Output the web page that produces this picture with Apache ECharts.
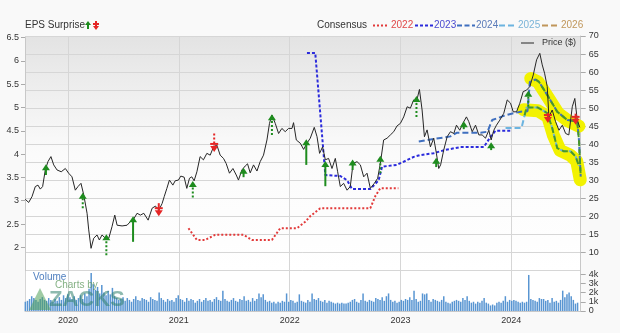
<!DOCTYPE html>
<html><head><meta charset="utf-8">
<script src="https://cdn.jsdelivr.net/npm/echarts@6/dist/echarts.min.js"></script>
<style>html,body{margin:0;padding:0;background:#f9f9f9}#c{width:620px;height:333px}</style>
</head><body><div id="c"></div>
<script>
// ---------- DATA (x = decimal year) ----------
const yearTicks = [2020, 2021, 2022, 2023, 2024];

const priceData = [
[2019.614,24.8],[2019.645,23.9],[2019.675,25.5],[2019.705,28.3],[2019.729,28.7],[2019.750,27.6],[2019.771,28.3],
[2019.795,32.9],[2019.819,35.2],[2019.846,36.6],[2019.871,34.3],[2019.901,32.9],[2019.939,32.4],[2019.976,33.3],
[2020.006,32.0],[2020.036,31.0],[2020.066,27.3],[2020.090,28.3],[2020.117,29.2],[2020.142,26.0],[2020.172,20.9],
[2020.187,16.3],[2020.208,11.2],[2020.232,14.0],[2020.262,14.9],[2020.283,13.5],[2020.307,14.9],[2020.337,14.0],
[2020.368,14.0],[2020.397,17.2],[2020.422,20.4],[2020.443,17.6],[2020.488,17.4],[2020.533,17.6],[2020.563,18.6],
[2020.587,19.0],[2020.623,20.9],[2020.653,20.4],[2020.684,20.9],[2020.723,19.0],[2020.759,22.3],[2020.789,22.9],
[2020.820,21.8],[2020.849,23.6],[2020.868,25.5],[2020.892,27.8],[2020.915,30.1],[2020.946,28.7],[2020.967,29.9],
[2020.996,30.1],[2021.018,31.2],[2021.048,30.9],[2021.072,27.8],[2021.096,30.6],[2021.117,31.0],[2021.138,29.9],
[2021.163,32.4],[2021.192,36.6],[2021.222,35.7],[2021.253,37.5],[2021.283,37.0],[2021.313,39.3],[2021.343,39.8],
[2021.373,37.0],[2021.403,36.1],[2021.427,34.7],[2021.457,32.0],[2021.488,33.3],[2021.518,31.5],[2021.538,30.1],
[2021.569,32.9],[2021.599,34.0],[2021.620,34.6],[2021.644,32.1],[2021.674,34.3],[2021.705,32.6],[2021.734,35.2],
[2021.764,37.0],[2021.795,41.2],[2021.818,45.8],[2021.840,48.1],[2021.870,45.8],[2021.900,43.0],[2021.930,44.4],
[2021.960,43.5],[2021.990,44.4],[2022.021,44.4],[2022.035,46.0],[2022.060,41.2],[2022.096,40.3],[2022.126,38.6],
[2022.156,40.3],[2022.186,41.7],[2022.222,44.7],[2022.247,42.1],[2022.270,37.5],[2022.297,39.3],[2022.322,35.7],
[2022.351,36.1],[2022.382,33.3],[2022.412,36.1],[2022.433,32.4],[2022.457,28.3],[2022.487,29.2],[2022.518,27.3],
[2022.547,28.3],[2022.572,34.7],[2022.608,35.2],[2022.638,34.3],[2022.668,31.0],[2022.698,32.0],[2022.728,27.8],
[2022.764,29.2],[2022.794,30.6],[2022.818,34.7],[2022.848,41.2],[2022.879,41.7],[2022.909,42.6],[2022.939,43.5],
[2022.969,45.1],[2022.999,45.8],[2023.029,47.6],[2023.060,50.4],[2023.089,50.0],[2023.119,52.3],[2023.144,51.8],
[2023.171,55.2],[2023.195,49.5],[2023.216,42.1],[2023.240,44.0],[2023.270,39.3],[2023.300,41.7],[2023.324,37.5],
[2023.345,33.3],[2023.362,34.3],[2023.390,38.4],[2023.421,42.1],[2023.451,43.5],[2023.481,43.0],[2023.505,45.3],
[2023.535,43.9],[2023.566,46.0],[2023.595,47.6],[2023.616,46.3],[2023.647,43.5],[2023.677,45.3],[2023.707,42.6],
[2023.737,42.6],[2023.767,41.7],[2023.797,43.9],[2023.818,41.2],[2023.842,43.9],[2023.866,45.3],[2023.896,46.7],
[2023.932,48.6],[2023.963,52.3],[2023.993,51.4],[2024.017,49.0],[2024.047,49.0],[2024.077,51.4],[2024.107,54.6],
[2024.137,55.0],[2024.167,56.0],[2024.198,59.2],[2024.228,63.4],[2024.257,65.2],[2024.279,62.0],[2024.300,59.7],
[2024.324,56.0],[2024.339,47.6],[2024.369,49.5],[2024.399,46.3],[2024.430,43.9],[2024.460,45.3],[2024.490,43.0],
[2024.519,42.6],[2024.550,50.4],[2024.573,52.7],[2024.595,46.7],[2024.618,44.7]
];

// consensus EPS lines [year, eps]
const cons2022 = [[2021.087,2.41],[2021.163,2.16],[2021.238,2.16],[2021.328,2.27],[2021.584,2.27],[2021.659,2.16],
[2021.840,2.16],[2021.915,2.41],[2022.066,2.41],[2022.141,2.55],[2022.186,2.67],[2022.276,2.84],[2022.728,2.84],
[2022.773,3.10],[2022.818,3.27],[2022.981,3.27]];
const cons2023 = [[2022.156,6.17],[2022.231,6.17],[2022.322,3.55],[2022.457,3.53],[2022.518,3.44],[2022.563,3.25],
[2022.728,3.25],[2022.803,3.44],[2022.834,3.73],[2022.969,3.77],[2023.119,3.94],[2023.180,3.98],[2023.300,4.02],
[2023.406,4.09],[2023.541,4.15],[2023.752,4.15],[2023.812,4.37],[2023.857,4.50],[2023.993,4.50]];
const cons2024 = [[2023.165,4.27],[2023.285,4.32],[2023.406,4.36],[2023.451,4.38],[2023.511,4.46],[2023.722,4.46],
[2023.785,4.48],[2023.827,4.73],[2023.932,4.82],[2023.993,4.86],[2024.083,4.91],[2024.146,4.92],[2024.167,5.55],
[2024.219,5.60],[2024.249,5.55],[2024.324,5.27],[2024.414,4.91],[2024.505,4.73],[2024.595,4.70],[2024.610,4.31],[2024.626,3.52]];
const cons2025 = [[2023.948,4.56],[2024.092,4.56],[2024.137,5.00],[2024.236,5.00],[2024.324,4.88],[2024.369,4.56],
[2024.414,4.13],[2024.474,4.06],[2024.535,4.06],[2024.580,3.95],[2024.610,3.75]];
const cons2026 = [];

// hand-drawn yellow marker paths [year, eps]
const highlightUpper = [[2024.175,5.62],[2024.240,5.55],[2024.330,5.22],[2024.420,4.88],[2024.520,4.70],[2024.610,4.60]];
const highlightLower = [[2024.110,4.95],[2024.240,4.93],[2024.330,4.80],[2024.380,4.40],[2024.440,4.08],[2024.530,3.98],[2024.590,3.85],[2024.622,3.45]];
const highlightFrom2024 = 2024.22, highlightFrom2025 = 2024.12;

// EPS surprises: [year, arrow head price, stem end price, 1=beat/-1=miss, dashed stem 1/0]
const surprises = [
[2019.801,33.4,31.5,1,0],[2020.133,25.5,22.3,1,1],[2020.346,14.0,9.3,1,1],[2020.587,19.0,13.0,1,0],
[2020.819,21.2,23.7,-1,0],[2021.126,28.7,25.3,1,1],[2021.319,39.0,43.0,-1,1],[2021.584,32.4,30.9,1,0],
[2021.840,47.2,42.6,1,1],[2022.150,40.3,34.3,1,0],[2022.322,34.3,28.4,1,0],[2022.568,34.7,32.9,1,0],
[2022.818,35.7,32.0,1,1],[2023.144,52.3,47.6,1,1],[2023.322,35.2,33.7,1,0],[2023.571,45.3,44.2,1,0],
[2023.818,39.5,38.4,1,0],[2024.153,53.7,50.4,1,1],[2024.330,47.0,48.7,-1,0],[2024.580,46.5,48.5,-1,0]
];

// weekly volume (thousands), first week starting at volumeStart
const volumeStart = 2019.615;
const volume = [
1.0,1.1,1.3,1.6,1.4,1.2,1.0,1.3,1.5,1.2,1.1,1.4,1.2,1.0,1.3,1.1,1.5,1.2,1.7,1.4,
1.8,1.5,1.3,1.6,1.2,1.4,1.7,1.3,1.9,1.6,2.4,4.1,
2.9,2.3,2.6,1.9,2.8,2.0,1.7,2.2,1.8,2.5,1.6,1.4,1.2,
1.3,1.5,1.1,1.4,1.2,1.0,1.3,1.6,1.2,1.1,1.4,1.3,1.2,1.0,1.5,1.3,1.2,1.1,2.0,1.4,1.2,1.0,1.3,1.1,1.2,1.0,1.4,
1.7,1.3,1.2,1.0,1.4,1.1,1.3,1.2,0.9,1.1,1.3,1.0,1.2,1.4,1.1,1.2,1.0,1.3,1.5,1.2,1.1,2.2,1.3,1.1,1.0,1.2,
1.4,1.1,1.0,1.3,1.2,1.6,1.1,1.2,1.0,1.4,1.1,1.3,1.9,1.5,1.8,1.2,1.0,1.1,0.9,1.0,0.8,1.0,0.9,1.1,1.0,1.9,
1.0,1.2,1.1,0.9,1.0,1.8,1.1,1.0,0.9,1.2,1.0,1.9,1.3,1.2,1.4,1.1,1.0,1.2,0.9,1.1,1.0,0.9,0.8,0.9,0.8,0.9,
0.8,0.8,0.9,1.0,1.2,1.3,1.0,0.9,1.2,1.9,1.1,1.0,1.2,1.1,1.0,1.4,1.3,1.2,1.5,1.1,1.6,1.9,1.2,1.0,1.1,0.9,
1.0,1.2,1.1,1.3,1.2,1.5,1.2,2.2,1.3,1.0,1.1,1.9,1.8,1.9,1.2,1.0,1.3,1.2,1.1,1.0,1.2,1.6,1.0,0.9,0.8,1.0,
1.1,1.2,1.1,1.0,1.4,1.2,1.6,1.1,0.9,1.0,0.8,1.0,0.9,1.1,1.4,0.9,0.8,0.6,0.7,0.6,0.9,1.0,0.9,1.1,1.6,1.0,
1.2,1.1,1.2,1.1,1.0,0.9,1.0,0.9,1.0,3.9,1.3,1.2,1.1,1.0,1.4,1.3,1.3,1.1,1.2,0.9,1.4,1.0,1.1,0.9,1.2,2.2,
1.5,1.8,2.0,1.6,1.2,0.8,0.9
];

// ---------- CHART ----------
const X_MIN = 2019.612, X_MAX = 2024.626;
const volData = volume.map((v, i) => [volumeStart + i * 7 / 365.25, v * 1000]);
const FONT = 'Liberation Sans, Arial, sans-serif';
const HL_GREEN = '#4a9828';
const chart = echarts.init(document.getElementById('c'), null, {renderer: 'canvas'});

function xAxisBase(gridIndex, showLabels) {
  return {
    type: 'value', gridIndex, min: X_MIN, max: X_MAX,
    axisLine: {show: gridIndex === 1, lineStyle: {color: '#c8c8c8'}},
    axisTick: {show: false},
    axisLabel: showLabels ? {show: true, customValues: yearTicks, formatter: v => String(v), color: '#333', fontSize: 9, fontFamily: FONT, margin: 5} : {show: false},
    splitLine: gridIndex === 2 ? {show: false} : {show: true, lineStyle: {color: '#d6d6d6', width: 1}},
    axisPointer: {show: false}
  };
}

function arrowRender(params, api) {
  const t = api.value(0), h = api.value(1), tl = api.value(2), dir = api.value(3), dashed = api.value(4) > 0;
  const ph = api.coord([t, h]), pt = api.coord([t, tl]);
  const c = dir > 0 ? '#1e8c1e' : '#e52626';
  const tipY = ph[1] - dir * 4, baseY = ph[1] + dir * 2;
  const children = [
    {type: 'line', shape: {x1: pt[0], y1: pt[1], x2: ph[0], y2: ph[1]}, style: {stroke: c, lineWidth: 2, lineDash: dashed ? [2, 2] : null}},
    {type: 'polygon', shape: {points: [[ph[0], tipY], [ph[0] - 4, baseY], [ph[0] + 4, baseY]]}, style: {fill: c}}
  ];
  if (dir < 0) children.push({type: 'rect', shape: {x: ph[0] - 4, y: ph[1] - 5, width: 8, height: 2}, style: {fill: c}});
  return {type: 'group', children};
}

function highlightRender(path) {
  return function (params, api) {
    if (params.dataIndex !== 0) return null;
    const pts = path.map(p => api.coord(p));
    return {type: 'polyline', shape: {points: pts}, style: {stroke: '#f2f200', lineWidth: 13, lineCap: 'round', lineJoin: 'round', fill: null}};
  };
}

// portion of a consensus line lying under the marker (starts with interpolated boundary point)
function tailFrom(arr, t0) {
  const out = [];
  for (let i = 0; i < arr.length; i++) {
    if (arr[i][0] >= t0) {
      if (!out.length && i > 0) {
        const a = arr[i - 1], b = arr[i], f = (t0 - a[0]) / (b[0] - a[0]);
        out.push([t0, a[1] + f * (b[1] - a[1])]);
      }
      out.push(arr[i]);
    }
  }
  return out;
}

const consStyle = (color, dash, z) => ({type: 'line', xAxisIndex: 2, yAxisIndex: 2, symbol: 'none', silent: true,
  lineStyle: {color, width: 2, type: dash}, z: z || 4});

const option = {
  backgroundColor: '#f9f9f9',
  animation: false,
  textStyle: {fontFamily: FONT},
  grid: [
    {left: 25, right: 39.3, top: 36, bottom: 62.3, show: true, borderWidth: 0,
      backgroundColor: new echarts.graphic.LinearGradient(0, 0, 0, 1, [{offset: 0, color: '#e3e3e3'}, {offset: 0.5, color: '#fbfbfb'}, {offset: 1, color: '#ffffff'}])},
    {left: 25, right: 39.3, top: 269.4, bottom: 22, show: true, borderWidth: 0, backgroundColor: '#ffffff'},
    {left: 25, right: 39.3, top: 37.5, bottom: 62.3, show: false}
  ],
  xAxis: [xAxisBase(0, false), xAxisBase(1, true), xAxisBase(2, false)],
  yAxis: [
    {type: 'value', gridIndex: 0, position: 'right', min: 5, max: 70, interval: 5,
      axisLine: {show: true, lineStyle: {color: '#c8c8c8'}},
      axisTick: {show: true, length: 5, lineStyle: {color: '#aaa'}},
      axisLabel: {showMinLabel: false, color: '#333', fontSize: 9, fontFamily: FONT, margin: 8},
      splitLine: {show: true, lineStyle: {color: '#d6d6d6'}}},
    {type: 'value', gridIndex: 1, position: 'right', min: 0, max: 4500, interval: 1000,
      axisLine: {show: true, lineStyle: {color: '#c8c8c8'}},
      axisTick: {show: true, length: 5, lineStyle: {color: '#aaa'}},
      axisLabel: {showMaxLabel: false, color: '#333', fontSize: 9, fontFamily: FONT, margin: 8, formatter: v => v === 0 ? '0' : (v / 1000) + 'k'},
      splitLine: {show: false}},
    {type: 'value', gridIndex: 2, position: 'left', min: 1.5, max: 6.5, interval: 0.5,
      axisLine: {show: true, lineStyle: {color: '#c8c8c8'}},
      axisTick: {show: true, length: 4, lineStyle: {color: '#aaa'}},
      axisLabel: {showMinLabel: false, color: '#333', fontSize: 9, fontFamily: FONT, margin: 6},
      splitLine: {show: false}}
  ],
  series: [
    {type: 'bar', xAxisIndex: 1, yAxisIndex: 1, data: volData, barWidth: 1.5, itemStyle: {color: '#5895d2'}, silent: true},
    Object.assign(consStyle('#e23a3a', [2, 2]), {data: cons2022}),
    Object.assign(consStyle('#2b2bdc', [3, 2]), {data: cons2023}),
    Object.assign(consStyle('#3f6fbf', [6, 3]), {data: cons2024}),
    Object.assign(consStyle('#6cb4e0', [6, 3]), {data: cons2025}),
    Object.assign(consStyle('#c0965a', [6, 3]), {data: cons2026}),
    Object.assign(consStyle(HL_GREEN, [6, 3], 4.5), {data: tailFrom(cons2024, highlightFrom2024)}),
    Object.assign(consStyle(HL_GREEN, [6, 3], 4.5), {data: tailFrom(cons2025, highlightFrom2025)}),
    {type: 'line', xAxisIndex: 0, yAxisIndex: 0, data: priceData, symbol: 'none', silent: true,
      lineStyle: {color: '#262626', width: 1}, z: 5},
    {type: 'custom', xAxisIndex: 0, yAxisIndex: 0, data: surprises, renderItem: arrowRender, z: 6, silent: true},
    {type: 'custom', xAxisIndex: 2, yAxisIndex: 2, data: [0], renderItem: highlightRender(highlightUpper), z: 3, silent: true},
    {type: 'custom', xAxisIndex: 2, yAxisIndex: 2, data: [0], renderItem: highlightRender(highlightLower), z: 3, silent: true}
  ],
  graphic: [
    {type: 'text', left: 25, top: 20, style: {text: 'EPS Surprise', fill: '#333', font: '10px ' + FONT}},
    {type: 'polygon', shape: {points: [[88, 21], [85, 25], [91, 25]]}, style: {fill: '#1e8c1e'}},
    {type: 'rect', shape: {x: 87, y: 24, width: 2, height: 5}, style: {fill: '#1e8c1e'}},
    {type: 'polygon', shape: {points: [[96, 30], [93, 26], [99, 26]]}, style: {fill: '#e52626'}},
    {type: 'rect', shape: {x: 95, y: 21, width: 2, height: 5}, style: {fill: '#e52626'}},
    {type: 'rect', shape: {x: 93, y: 23, width: 6, height: 2}, style: {fill: '#e52626'}},
    {type: 'text', left: 317, top: 20, style: {text: 'Consensus', fill: '#333', font: '10px ' + FONT}},
    {type: 'line', shape: {x1: 373, y1: 25.5, x2: 387, y2: 25.5}, style: {stroke: '#e23a3a', lineWidth: 2, lineDash: [2, 2]}},
    {type: 'text', left: 391, top: 20, style: {text: '2022', fill: '#e04848', font: '10px ' + FONT}},
    {type: 'line', shape: {x1: 415, y1: 25.5, x2: 433, y2: 25.5}, style: {stroke: '#2b2bdc', lineWidth: 2, lineDash: [3, 2]}},
    {type: 'text', left: 434, top: 20, style: {text: '2023', fill: '#4a4ad0', font: '10px ' + FONT}},
    {type: 'line', shape: {x1: 457, y1: 25.5, x2: 475, y2: 25.5}, style: {stroke: '#3f6fbf', lineWidth: 2, lineDash: [5, 2.5]}},
    {type: 'text', left: 476, top: 20, style: {text: '2024', fill: '#5a7ab8', font: '10px ' + FONT}},
    {type: 'line', shape: {x1: 499, y1: 25.5, x2: 517, y2: 25.5}, style: {stroke: '#6cb4e0', lineWidth: 2, lineDash: [6, 3]}},
    {type: 'text', left: 518, top: 20, style: {text: '2025', fill: '#7ab4d8', font: '10px ' + FONT}},
    {type: 'line', shape: {x1: 542, y1: 25.5, x2: 560, y2: 25.5}, style: {stroke: '#c0965a', lineWidth: 2, lineDash: [6, 3]}},
    {type: 'text', left: 561, top: 20, style: {text: '2026', fill: '#c0965a', font: '10px ' + FONT}},
    {type: 'line', shape: {x1: 521, y1: 43, x2: 534, y2: 43}, style: {stroke: '#262626', lineWidth: 1}},
    {type: 'text', left: 542, top: 38, style: {text: 'Price ($)', fill: '#333', font: '9px ' + FONT}},
    {type: 'text', left: 33, top: 272, style: {text: 'Volume', fill: '#4f7fbf', font: '10px ' + FONT}, z: 20},
    {type: 'text', left: 55, top: 280, style: {text: 'Charts by', fill: 'rgba(90,150,90,0.75)', font: '10px ' + FONT}, z: 20},
    {type: 'polygon', shape: {points: [[29, 310], [40, 288], [51, 310]]}, style: {fill: 'rgba(80,160,90,0.55)'}, z: 20},
    {type: 'text', left: 49, top: 289, style: {text: 'ZACKS', fill: 'rgba(50,130,110,0.55)', font: 'bold 22px ' + FONT}, z: 20}
  ]
};
chart.setOption(option);
</script>
</body></html>
